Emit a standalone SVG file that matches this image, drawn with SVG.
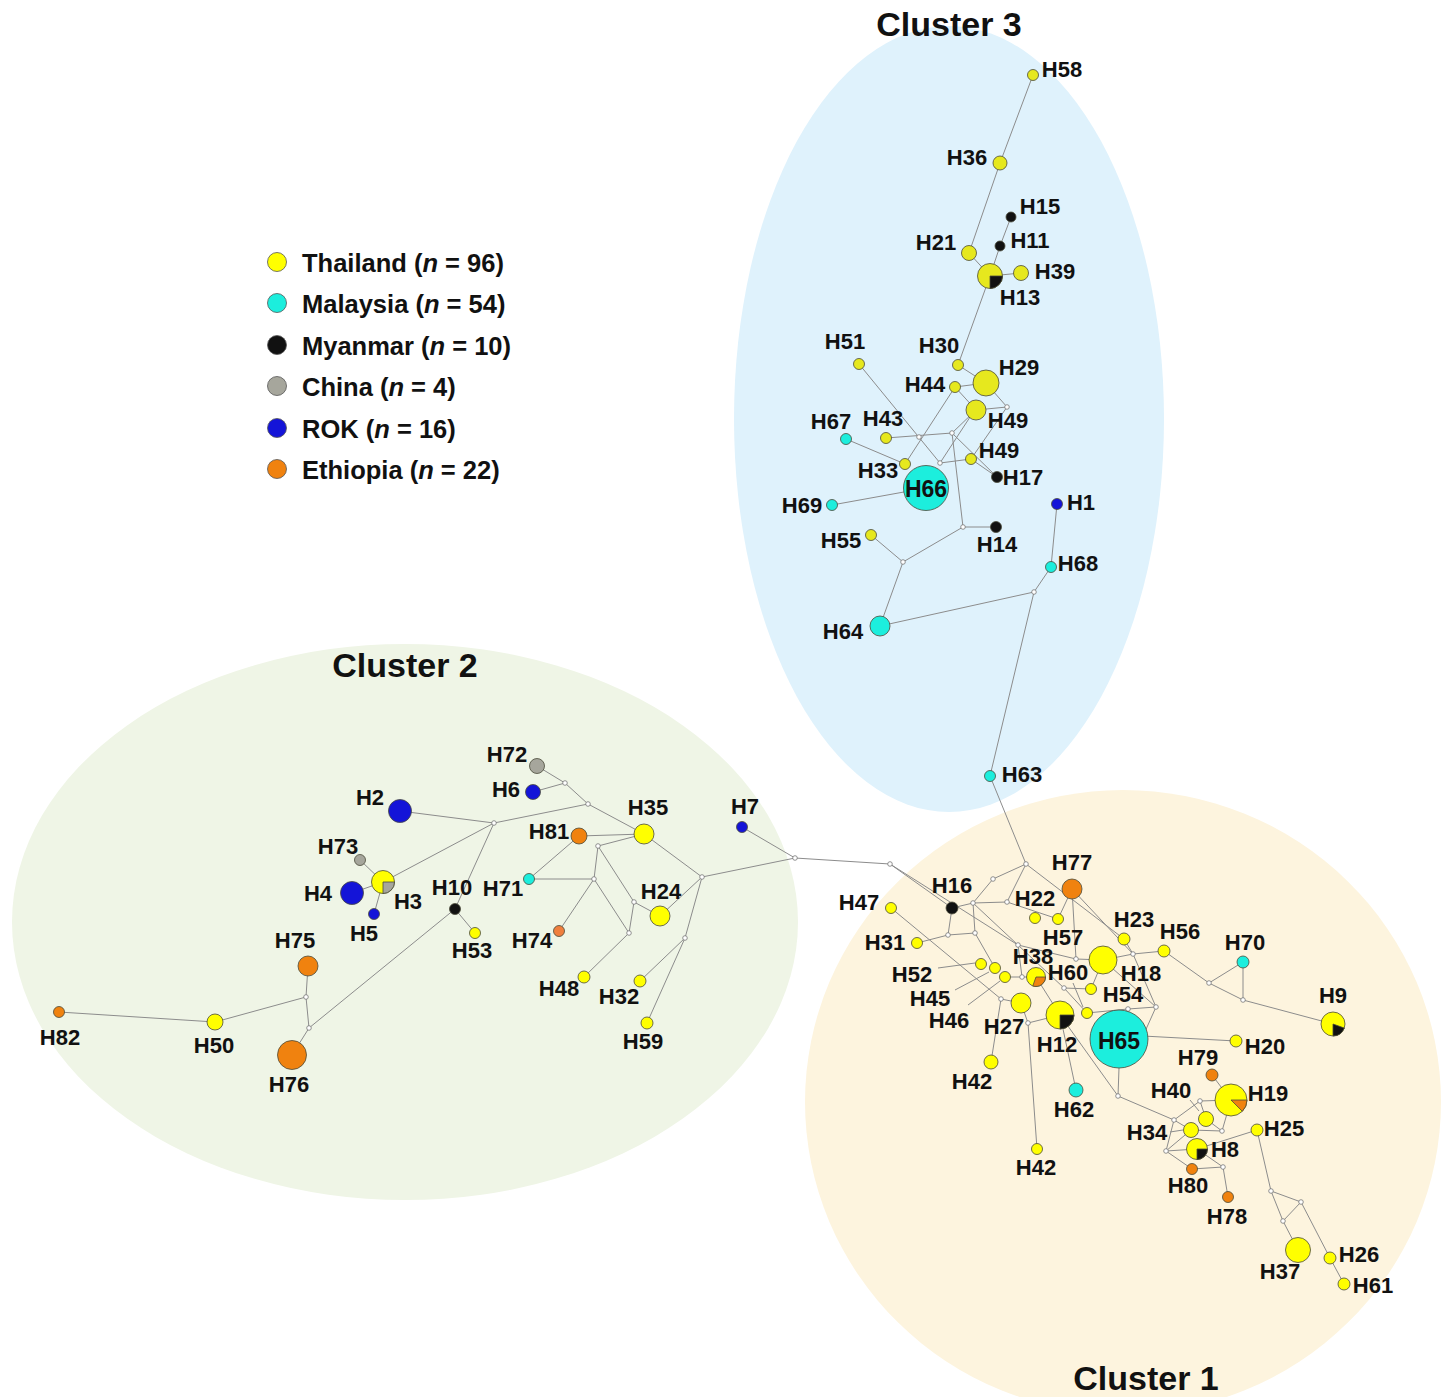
<svg xmlns="http://www.w3.org/2000/svg" width="1447" height="1397" viewBox="0 0 1447 1397">
<style>
text{font-family:"Liberation Sans",Arial,sans-serif;font-weight:bold;fill:#111}
.lb{font-size:22px;text-anchor:middle}
.ti{font-size:34px;text-anchor:middle}
.lg{font-size:25.5px}
.e line,.e polyline{stroke:#8c8c8c;stroke-width:1;fill:none}
.n circle,.n path{stroke:#4a4a3a;stroke-width:0.8}
.th{fill:#ffff00}
.th3{fill:#e6e81e}
.my{fill:#111111}
.ma{fill:#1ceedd}
.cn{fill:#a6a69c}
.ro{fill:#1414d8}
.et{fill:#f0820f}
.mv{fill:#ffffff;stroke:#777;stroke-width:0.8}
</style>
<rect width="1447" height="1397" fill="#ffffff"/>
<g id="clusters">
<ellipse cx="405" cy="922" rx="393" ry="278" fill="#eff5e6"/>
<ellipse cx="1123" cy="1102" rx="318" ry="312" fill="#fdf4de"/>
<ellipse cx="949" cy="419" rx="215" ry="393" fill="#dff2fc"/>
<text class="ti" x="949" y="36">Cluster 3</text>
<text class="ti" x="405" y="677">Cluster 2</text>
<text class="ti" x="1146" y="1390">Cluster 1</text>
</g>
<g id="legend">
<circle cx="277" cy="262" r="9.5" class="th" stroke="#555" stroke-width="0.8"/>
<circle cx="277" cy="303" r="9.5" class="ma" stroke="#555" stroke-width="0.8"/>
<circle cx="277" cy="345" r="9.5" class="my" stroke="#555" stroke-width="0.8"/>
<circle cx="277" cy="386" r="9.5" class="cn" stroke="#555" stroke-width="0.8"/>
<circle cx="277" cy="428" r="9.5" class="ro" stroke="#555" stroke-width="0.8"/>
<circle cx="277" cy="469" r="9.5" class="et" stroke="#555" stroke-width="0.8"/>
<text class="lg" x="302" y="272">Thailand (<tspan font-style="italic">n</tspan> = 96)</text>
<text class="lg" x="302" y="313">Malaysia (<tspan font-style="italic">n</tspan> = 54)</text>
<text class="lg" x="302" y="355">Myanmar (<tspan font-style="italic">n</tspan> = 10)</text>
<text class="lg" x="302" y="396">China (<tspan font-style="italic">n</tspan> = 4)</text>
<text class="lg" x="302" y="438">ROK (<tspan font-style="italic">n</tspan> = 16)</text>
<text class="lg" x="302" y="479">Ethiopia (<tspan font-style="italic">n</tspan> = 22)</text>
</g>
<g id="connectors" class="e">
<!-- cluster 3 -->
<line x1="1033" y1="75" x2="1000" y2="163"/>
<line x1="1000" y1="163" x2="969" y2="253"/>
<line x1="969" y1="253" x2="990" y2="276"/>
<line x1="1011" y1="217" x2="1000" y2="246"/>
<line x1="1000" y1="246" x2="990" y2="276"/>
<line x1="990" y1="276" x2="1021" y2="273"/>
<line x1="990" y1="276" x2="958" y2="365"/>
<line x1="958" y1="365" x2="986" y2="383"/>
<line x1="955" y1="387" x2="986" y2="383"/>
<line x1="986" y1="383" x2="1007" y2="407"/>
<line x1="976" y1="410" x2="1007" y2="407"/>
<line x1="1007" y1="407" x2="971" y2="459"/>
<line x1="955" y1="387" x2="905" y2="464"/>
<line x1="955" y1="387" x2="976" y2="410"/>
<line x1="859" y1="364" x2="940" y2="463"/>
<line x1="886" y1="438" x2="952" y2="433"/>
<line x1="952" y1="433" x2="976" y2="410"/>
<line x1="940" y1="463" x2="972" y2="414"/>
<line x1="952" y1="433" x2="997" y2="477"/>
<line x1="940" y1="463" x2="971" y2="459"/>
<line x1="971" y1="459" x2="997" y2="477"/>
<line x1="846" y1="439" x2="905" y2="464"/>
<line x1="832" y1="505" x2="926" y2="488"/>
<line x1="952" y1="433" x2="963" y2="527"/>
<line x1="963" y1="527" x2="996" y2="527"/>
<line x1="963" y1="527" x2="903" y2="562"/>
<line x1="871" y1="535" x2="903" y2="562"/>
<line x1="903" y1="562" x2="880" y2="626"/>
<line x1="880" y1="626" x2="1034" y2="592"/>
<line x1="1034" y1="592" x2="1051" y2="567"/>
<line x1="1051" y1="567" x2="1057" y2="504"/>
<line x1="1034" y1="592" x2="990" y2="776"/>
<line x1="990" y1="776" x2="1026" y2="864"/>
<!-- cluster 2 -->
<line x1="537" y1="766" x2="565" y2="783"/>
<line x1="533" y1="792" x2="565" y2="783"/>
<line x1="565" y1="783" x2="588" y2="804"/>
<line x1="588" y1="804" x2="644" y2="834"/>
<line x1="588" y1="804" x2="494" y2="823"/>
<line x1="400" y1="811" x2="494" y2="823"/>
<line x1="494" y1="823" x2="383" y2="882"/>
<line x1="494" y1="823" x2="455" y2="909"/>
<line x1="360" y1="860" x2="383" y2="882"/>
<line x1="352" y1="893" x2="383" y2="882"/>
<line x1="374" y1="914" x2="383" y2="882"/>
<line x1="455" y1="909" x2="475" y2="933"/>
<line x1="455" y1="909" x2="309" y2="1028"/>
<line x1="309" y1="1028" x2="292" y2="1055"/>
<line x1="309" y1="1028" x2="306" y2="997"/>
<line x1="306" y1="997" x2="308" y2="966"/>
<line x1="306" y1="997" x2="215" y2="1022"/>
<line x1="215" y1="1022" x2="59" y2="1012"/>
<line x1="579" y1="836" x2="644" y2="834"/>
<line x1="579" y1="836" x2="529" y2="879"/>
<line x1="529" y1="879" x2="594" y2="879"/>
<line x1="594" y1="879" x2="598" y2="846"/>
<line x1="598" y1="846" x2="644" y2="834"/>
<line x1="594" y1="879" x2="559" y2="931"/>
<line x1="594" y1="879" x2="629" y2="933"/>
<line x1="598" y1="846" x2="634" y2="902"/>
<line x1="634" y1="902" x2="629" y2="933"/>
<line x1="634" y1="902" x2="660" y2="916"/>
<line x1="629" y1="933" x2="584" y2="977"/>
<line x1="644" y1="834" x2="702" y2="877"/>
<line x1="660" y1="916" x2="702" y2="877"/>
<line x1="702" y1="877" x2="685" y2="938"/>
<line x1="685" y1="938" x2="640" y2="981"/>
<line x1="685" y1="938" x2="647" y2="1023"/>
<line x1="702" y1="877" x2="795" y2="858"/>
<line x1="742" y1="827" x2="795" y2="858"/>
<line x1="795" y1="858" x2="890" y2="864"/>
<!-- cluster 1 -->
<line x1="1026" y1="864" x2="993" y2="879"/>
<line x1="993" y1="879" x2="973" y2="903"/>
<line x1="1026" y1="864" x2="1007" y2="902"/>
<line x1="973" y1="903" x2="1007" y2="902"/>
<line x1="973" y1="903" x2="952" y2="908"/>
<line x1="890" y1="864" x2="952" y2="908"/>
<line x1="890" y1="864" x2="1018" y2="945"/>
<line x1="952" y1="908" x2="948" y2="935"/>
<line x1="917" y1="943" x2="948" y2="935"/>
<line x1="948" y1="935" x2="975" y2="933"/>
<line x1="973" y1="903" x2="975" y2="933"/>
<line x1="975" y1="933" x2="995" y2="968"/>
<line x1="891" y1="908" x2="1001" y2="999"/>
<line x1="973" y1="903" x2="1064" y2="988"/>
<line x1="1007" y1="902" x2="1058" y2="919"/>
<line x1="1026" y1="864" x2="1124" y2="939"/>
<line x1="1018" y1="945" x2="1022" y2="977"/>
<line x1="1022" y1="977" x2="1036" y2="977"/>
<line x1="1022" y1="977" x2="1005" y2="977"/>
<line x1="1018" y1="945" x2="1076" y2="959"/>
<line x1="1001" y1="999" x2="1021" y2="1003"/>
<line x1="1001" y1="999" x2="991" y2="1062"/>
<line x1="1021" y1="1003" x2="1028" y2="1023"/>
<line x1="1028" y1="1023" x2="1060" y2="1015"/>
<line x1="1028" y1="1023" x2="1037" y2="1149"/>
<line x1="1036" y1="977" x2="1060" y2="1015"/>
<line x1="1060" y1="1015" x2="1076" y2="1090"/>
<line x1="1060" y1="1015" x2="1118" y2="1096"/>
<line x1="1118" y1="1096" x2="1119" y2="1068"/>
<line x1="1118" y1="1096" x2="1174" y2="1120"/>
<line x1="1143" y1="1036" x2="1236" y2="1041"/>
<line x1="1072" y1="889" x2="1058" y2="919"/>
<line x1="1072" y1="889" x2="1076" y2="959"/>
<line x1="1072" y1="889" x2="1133" y2="954"/>
<line x1="1076" y1="959" x2="1103" y2="960"/>
<line x1="1064" y1="988" x2="1091" y2="989"/>
<line x1="1064" y1="988" x2="1087" y2="1013"/>
<line x1="1091" y1="989" x2="1103" y2="960"/>
<line x1="1087" y1="1013" x2="1128" y2="1009"/>
<line x1="1103" y1="960" x2="1133" y2="954"/>
<line x1="1124" y1="939" x2="1133" y2="954"/>
<line x1="1133" y1="954" x2="1164" y2="951"/>
<line x1="1103" y1="960" x2="1156" y2="1007"/>
<line x1="1128" y1="1009" x2="1156" y2="1007"/>
<line x1="1156" y1="1007" x2="1143" y2="1036"/>
<line x1="1133" y1="954" x2="1156" y2="1007"/>
<line x1="1164" y1="951" x2="1209" y2="983"/>
<line x1="1209" y1="983" x2="1243" y2="962"/>
<line x1="1209" y1="983" x2="1243" y2="1000"/>
<line x1="1243" y1="962" x2="1243" y2="1000"/>
<line x1="1243" y1="1000" x2="1333" y2="1024"/>
<line x1="1212" y1="1075" x2="1231" y2="1100"/>
<line x1="1231" y1="1100" x2="1200" y2="1101"/>
<line x1="1200" y1="1101" x2="1174" y2="1120"/>
<line x1="1200" y1="1101" x2="1206" y2="1119"/>
<line x1="1206" y1="1119" x2="1222" y2="1131"/>
<line x1="1174" y1="1120" x2="1191" y2="1130"/>
<line x1="1174" y1="1120" x2="1166" y2="1151"/>
<line x1="1191" y1="1130" x2="1222" y2="1131"/>
<line x1="1166" y1="1151" x2="1197" y2="1149"/>
<line x1="1166" y1="1151" x2="1191" y2="1130"/>
<line x1="1166" y1="1151" x2="1192" y2="1169"/>
<line x1="1192" y1="1169" x2="1223" y2="1167"/>
<line x1="1197" y1="1149" x2="1223" y2="1167"/>
<line x1="1223" y1="1167" x2="1228" y2="1197"/>
<line x1="1222" y1="1131" x2="1231" y2="1100"/>
<line x1="1197" y1="1149" x2="1257" y2="1130"/>
<line x1="1257" y1="1130" x2="1271" y2="1191"/>
<line x1="1271" y1="1191" x2="1301" y2="1202"/>
<line x1="1271" y1="1191" x2="1283" y2="1221"/>
<line x1="1283" y1="1221" x2="1301" y2="1202"/>
<line x1="1283" y1="1221" x2="1298" y2="1250"/>
<line x1="1301" y1="1202" x2="1330" y2="1258"/>
<line x1="1330" y1="1258" x2="1344" y2="1284"/>
<!-- leader lines -->
<line x1="938" y1="968" x2="975" y2="963"/>
<line x1="955" y1="990" x2="989" y2="972"/>
<line x1="968" y1="1005" x2="1000" y2="981"/>
<line x1="1073" y1="983" x2="1083" y2="1007" stroke="#222"/>
<line x1="1190" y1="1100" x2="1199" y2="1111" stroke="#222"/>
<line x1="1170" y1="1132" x2="1183" y2="1130" stroke="#222"/>
</g>
<g id="medians">
<circle class="mv" cx="1007" cy="407" r="2.3"/>
<circle class="mv" cx="919" cy="437" r="2.3"/>
<circle class="mv" cx="952" cy="433" r="2.3"/>
<circle class="mv" cx="940" cy="463" r="2.3"/>
<circle class="mv" cx="963" cy="527" r="2.3"/>
<circle class="mv" cx="903" cy="562" r="2.3"/>
<circle class="mv" cx="1034" cy="592" r="2.3"/>
<circle class="mv" cx="565" cy="783" r="2.3"/>
<circle class="mv" cx="588" cy="804" r="2.3"/>
<circle class="mv" cx="494" cy="823" r="2.3"/>
<circle class="mv" cx="598" cy="846" r="2.3"/>
<circle class="mv" cx="594" cy="879" r="2.3"/>
<circle class="mv" cx="634" cy="902" r="2.3"/>
<circle class="mv" cx="629" cy="933" r="2.3"/>
<circle class="mv" cx="702" cy="877" r="2.3"/>
<circle class="mv" cx="685" cy="938" r="2.3"/>
<circle class="mv" cx="795" cy="858" r="2.3"/>
<circle class="mv" cx="306" cy="997" r="2.3"/>
<circle class="mv" cx="309" cy="1028" r="2.3"/>
<circle class="mv" cx="890" cy="864" r="2.3"/>
<circle class="mv" cx="1026" cy="864" r="2.3"/>
<circle class="mv" cx="993" cy="879" r="2.3"/>
<circle class="mv" cx="973" cy="903" r="2.3"/>
<circle class="mv" cx="1007" cy="902" r="2.3"/>
<circle class="mv" cx="948" cy="935" r="2.3"/>
<circle class="mv" cx="975" cy="933" r="2.3"/>
<circle class="mv" cx="1018" cy="945" r="2.3"/>
<circle class="mv" cx="1022" cy="977" r="2.3"/>
<circle class="mv" cx="1001" cy="999" r="2.3"/>
<circle class="mv" cx="1028" cy="1023" r="2.3"/>
<circle class="mv" cx="1064" cy="988" r="2.3"/>
<circle class="mv" cx="1076" cy="959" r="2.3"/>
<circle class="mv" cx="1133" cy="954" r="2.3"/>
<circle class="mv" cx="1128" cy="1009" r="2.3"/>
<circle class="mv" cx="1156" cy="1007" r="2.3"/>
<circle class="mv" cx="1209" cy="983" r="2.3"/>
<circle class="mv" cx="1243" cy="1000" r="2.3"/>
<circle class="mv" cx="1118" cy="1096" r="2.3"/>
<circle class="mv" cx="1174" cy="1120" r="2.3"/>
<circle class="mv" cx="1200" cy="1101" r="2.3"/>
<circle class="mv" cx="1166" cy="1151" r="2.3"/>
<circle class="mv" cx="1222" cy="1131" r="2.3"/>
<circle class="mv" cx="1223" cy="1167" r="2.3"/>
<circle class="mv" cx="1271" cy="1191" r="2.3"/>
<circle class="mv" cx="1301" cy="1202" r="2.3"/>
<circle class="mv" cx="1283" cy="1221" r="2.3"/>
</g>
<g id="nodes" class="n">
<!-- cluster 3 -->
<g id="H58"><circle class="th3" cx="1033" cy="75" r="5.5"/><text class="lb" x="1062" y="77">H58</text></g>
<g id="H36"><circle class="th3" cx="1000" cy="163" r="7"/><text class="lb" x="967" y="165">H36</text></g>
<g id="H15"><circle class="my" cx="1011" cy="217" r="5"/><text class="lb" x="1040" y="214">H15</text></g>
<g id="H11"><circle class="my" cx="1000" cy="246" r="5"/><text class="lb" x="1030" y="248">H11</text></g>
<g id="H21"><circle class="th3" cx="969" cy="253" r="7.5"/><text class="lb" x="936" y="250">H21</text></g>
<g id="H13"><circle class="th3" cx="990" cy="276" r="12.5"/><path class="my" d="M990,276 L1002.5,276 A12.5,12.5 0 0 1 990,288.5 Z"/><text class="lb" x="1020" y="305">H13</text></g>
<g id="H39"><circle class="th3" cx="1021" cy="273" r="7.5"/><text class="lb" x="1055" y="279">H39</text></g>
<g id="H51"><circle class="th3" cx="859" cy="364" r="5.5"/><text class="lb" x="845" y="349">H51</text></g>
<g id="H30"><circle class="th3" cx="958" cy="365" r="5.5"/><text class="lb" x="939" y="353">H30</text></g>
<g id="H29"><circle class="th3" cx="986" cy="383" r="13"/><text class="lb" x="1019" y="375">H29</text></g>
<g id="H44"><circle class="th3" cx="955" cy="387" r="5.5"/><text class="lb" x="925" y="392">H44</text></g>
<g id="H49a"><circle class="th3" cx="976" cy="410" r="10"/><text class="lb" x="1008" y="428">H49</text></g>
<g id="H67"><circle class="ma" cx="846" cy="439" r="5.5"/><text class="lb" x="831" y="429">H67</text></g>
<g id="H43"><circle class="th3" cx="886" cy="438" r="5.5"/><text class="lb" x="883" y="426">H43</text></g>
<g id="H33"><circle class="th3" cx="905" cy="464" r="5.5"/><text class="lb" x="878" y="478">H33</text></g>
<g id="H49b"><circle class="th3" cx="971" cy="459" r="5.5"/><text class="lb" x="999" y="458">H49</text></g>
<g id="H17"><circle class="my" cx="997" cy="477" r="5.5"/><text class="lb" x="1023" y="485">H17</text></g>
<g id="H66"><circle class="ma" cx="926" cy="488" r="22.5"/><text class="lb" x="926" y="497" style="font-size:23px">H66</text></g>
<g id="H69"><circle class="ma" cx="832" cy="505" r="5.5"/><text class="lb" x="802" y="513">H69</text></g>
<g id="H1"><circle class="ro" cx="1057" cy="504" r="5.5"/><text class="lb" x="1081" y="510">H1</text></g>
<g id="H55"><circle class="th3" cx="871" cy="535" r="5.5"/><text class="lb" x="841" y="548">H55</text></g>
<g id="H14"><circle class="my" cx="996" cy="527" r="5.5"/><text class="lb" x="997" y="552">H14</text></g>
<g id="H68"><circle class="ma" cx="1051" cy="567" r="5.5"/><text class="lb" x="1078" y="571">H68</text></g>
<g id="H64"><circle class="ma" cx="880" cy="626" r="10"/><text class="lb" x="843" y="639">H64</text></g>
<g id="H63"><circle class="ma" cx="990" cy="776" r="5.5"/><text class="lb" x="1022" y="782">H63</text></g>
<!-- cluster 2 -->
<g id="H72"><circle class="cn" cx="537" cy="766" r="7.5"/><text class="lb" x="507" y="762">H72</text></g>
<g id="H6"><circle class="ro" cx="533" cy="792" r="7.5"/><text class="lb" x="506" y="797">H6</text></g>
<g id="H2"><circle class="ro" cx="400" cy="811" r="11.5"/><text class="lb" x="370" y="805">H2</text></g>
<g id="H35"><circle class="th" cx="644" cy="834" r="10"/><text class="lb" x="648" y="815">H35</text></g>
<g id="H7"><circle class="ro" cx="742" cy="827" r="5.5"/><text class="lb" x="745" y="814">H7</text></g>
<g id="H81"><circle class="et" cx="579" cy="836" r="8"/><text class="lb" x="549" y="839">H81</text></g>
<g id="H73"><circle class="cn" cx="360" cy="860" r="5.5"/><text class="lb" x="338" y="854">H73</text></g>
<g id="H3"><circle class="th" cx="383" cy="882" r="11.5"/><path class="cn" d="M383,882 L394.5,882 A11.5,11.5 0 0 1 383,893.5 Z"/><text class="lb" x="408" y="909">H3</text></g>
<g id="H4"><circle class="ro" cx="352" cy="893" r="11.5"/><text class="lb" x="318" y="901">H4</text></g>
<g id="H5"><circle class="ro" cx="374" cy="914" r="5.5"/><text class="lb" x="364" y="941">H5</text></g>
<g id="H10"><circle class="my" cx="455" cy="909" r="5.5"/><text class="lb" x="452" y="895">H10</text></g>
<g id="H53"><circle class="th" cx="475" cy="933" r="5.5"/><text class="lb" x="472" y="958">H53</text></g>
<g id="H71"><circle class="ma" cx="529" cy="879" r="5.5"/><text class="lb" x="503" y="896">H71</text></g>
<g id="H24"><circle class="th" cx="660" cy="916" r="10"/><text class="lb" x="661" y="899">H24</text></g>
<g id="H74"><circle cx="559" cy="931" r="5.5" fill="#ef7f3e"/><text class="lb" x="532" y="948">H74</text></g>
<g id="H48"><circle class="th" cx="584" cy="977" r="6"/><text class="lb" x="559" y="996">H48</text></g>
<g id="H32"><circle class="th" cx="640" cy="981" r="6"/><text class="lb" x="619" y="1004">H32</text></g>
<g id="H59"><circle class="th" cx="647" cy="1023" r="6"/><text class="lb" x="643" y="1049">H59</text></g>
<g id="H75"><circle class="et" cx="308" cy="966" r="10"/><text class="lb" x="295" y="948">H75</text></g>
<g id="H50"><circle class="th" cx="215" cy="1022" r="8"/><text class="lb" x="214" y="1053">H50</text></g>
<g id="H82"><circle class="et" cx="59" cy="1012" r="5.5"/><text class="lb" x="60" y="1045">H82</text></g>
<g id="H76"><circle class="et" cx="292" cy="1055" r="14.5"/><text class="lb" x="289" y="1092">H76</text></g>
<!-- cluster 1 -->
<g id="H77"><circle class="et" cx="1072" cy="889" r="10"/><text class="lb" x="1072" y="870">H77</text></g>
<g id="H16"><circle class="my" cx="952" cy="908" r="6"/><text class="lb" x="952" y="893">H16</text></g>
<g id="H47"><circle class="th" cx="891" cy="908" r="5.5"/><text class="lb" x="859" y="910">H47</text></g>
<g id="H22"><circle class="th" cx="1035" cy="918" r="5.5"/><text class="lb" x="1035" y="906">H22</text></g>
<g id="H57"><circle class="th" cx="1058" cy="919" r="5.5"/><text class="lb" x="1063" y="945">H57</text></g>
<g id="H23"><circle class="th" cx="1124" cy="939" r="6"/><text class="lb" x="1134" y="927">H23</text></g>
<g id="H56"><circle class="th" cx="1164" cy="951" r="6"/><text class="lb" x="1180" y="939">H56</text></g>
<g id="H70"><circle class="ma" cx="1243" cy="962" r="6"/><text class="lb" x="1245" y="950">H70</text></g>
<g id="H31"><circle class="th" cx="917" cy="943" r="5.5"/><text class="lb" x="885" y="950">H31</text></g>
<g id="H52"><circle class="th" cx="981" cy="964" r="5.5"/><text class="lb" x="912" y="982">H52</text></g>
<g id="H45"><circle class="th" cx="995" cy="968" r="5.5"/><text class="lb" x="930" y="1006">H45</text></g>
<g id="H46"><circle class="th" cx="1005" cy="977" r="5.5"/><text class="lb" x="949" y="1028">H46</text></g>
<g id="H38"><circle class="th" cx="1036" cy="977" r="9.5"/><path class="et" d="M1036,977 L1045.5,977 A9.5,9.5 0 0 1 1032.8,985.9 Z"/><text class="lb" x="1033" y="964">H38</text></g>
<g id="H18"><circle class="th" cx="1103" cy="960" r="14"/><text class="lb" x="1141" y="981">H18</text></g>
<g id="H54"><circle class="th" cx="1091" cy="989" r="5.5"/><text class="lb" x="1123" y="1002">H54</text></g>
<g id="H60"><circle class="th" cx="1087" cy="1013" r="5.5"/><text class="lb" x="1068" y="980">H60</text></g>
<g id="H27"><circle class="th" cx="1021" cy="1003" r="10"/><text class="lb" x="1004" y="1034">H27</text></g>
<g id="H12"><circle class="th" cx="1060" cy="1015" r="14"/><path class="my" d="M1060,1015 L1074,1015 A14,14 0 0 1 1060,1029 Z"/><text class="lb" x="1057" y="1052">H12</text></g>
<g id="H65"><circle class="ma" cx="1119" cy="1039" r="29"/><text class="lb" x="1119" y="1049" style="font-size:23px">H65</text></g>
<g id="H9"><circle class="th" cx="1333" cy="1024" r="12"/><path class="my" d="M1333,1024 L1344.3,1028.1 A12,12 0 0 1 1333,1036 Z"/><text class="lb" x="1333" y="1003">H9</text></g>
<g id="H20"><circle class="th" cx="1236" cy="1041" r="6"/><text class="lb" x="1265" y="1054">H20</text></g>
<g id="H42a"><circle class="th" cx="991" cy="1062" r="7"/><text class="lb" x="972" y="1089">H42</text></g>
<g id="H62"><circle class="ma" cx="1076" cy="1090" r="7"/><text class="lb" x="1074" y="1117">H62</text></g>
<g id="H42b"><circle class="th" cx="1037" cy="1149" r="5.5"/><text class="lb" x="1036" y="1175">H42</text></g>
<g id="H79"><circle class="et" cx="1212" cy="1075" r="6"/><text class="lb" x="1198" y="1065">H79</text></g>
<g id="H19"><circle class="th" cx="1231" cy="1100" r="16"/><path class="et" d="M1231,1100 L1247,1100 A16,16 0 0 1 1242.3,1111.3 Z"/><text class="lb" x="1268" y="1101">H19</text></g>
<g id="H40"><circle class="th" cx="1206" cy="1119" r="7.5"/><text class="lb" x="1171" y="1098">H40</text></g>
<g id="H34"><circle class="th" cx="1191" cy="1130" r="7.5"/><text class="lb" x="1147" y="1140">H34</text></g>
<g id="H8"><circle class="th" cx="1197" cy="1149" r="10.5"/><path class="my" d="M1197,1149 L1207.5,1149 A10.5,10.5 0 0 1 1197,1159.5 Z"/><text class="lb" x="1225" y="1157">H8</text></g>
<g id="H80"><circle class="et" cx="1192" cy="1169" r="5.5"/><text class="lb" x="1188" y="1193">H80</text></g>
<g id="H78"><circle class="et" cx="1228" cy="1197" r="5.5"/><text class="lb" x="1227" y="1224">H78</text></g>
<g id="H25"><circle class="th" cx="1257" cy="1130" r="6"/><text class="lb" x="1284" y="1136">H25</text></g>
<g id="H37"><circle class="th" cx="1298" cy="1250" r="12.5"/><text class="lb" x="1280" y="1279">H37</text></g>
<g id="H26"><circle class="th" cx="1330" cy="1258" r="6"/><text class="lb" x="1359" y="1262">H26</text></g>
<g id="H61"><circle class="th" cx="1344" cy="1284" r="6"/><text class="lb" x="1373" y="1293">H61</text></g>
</g>
</svg>
